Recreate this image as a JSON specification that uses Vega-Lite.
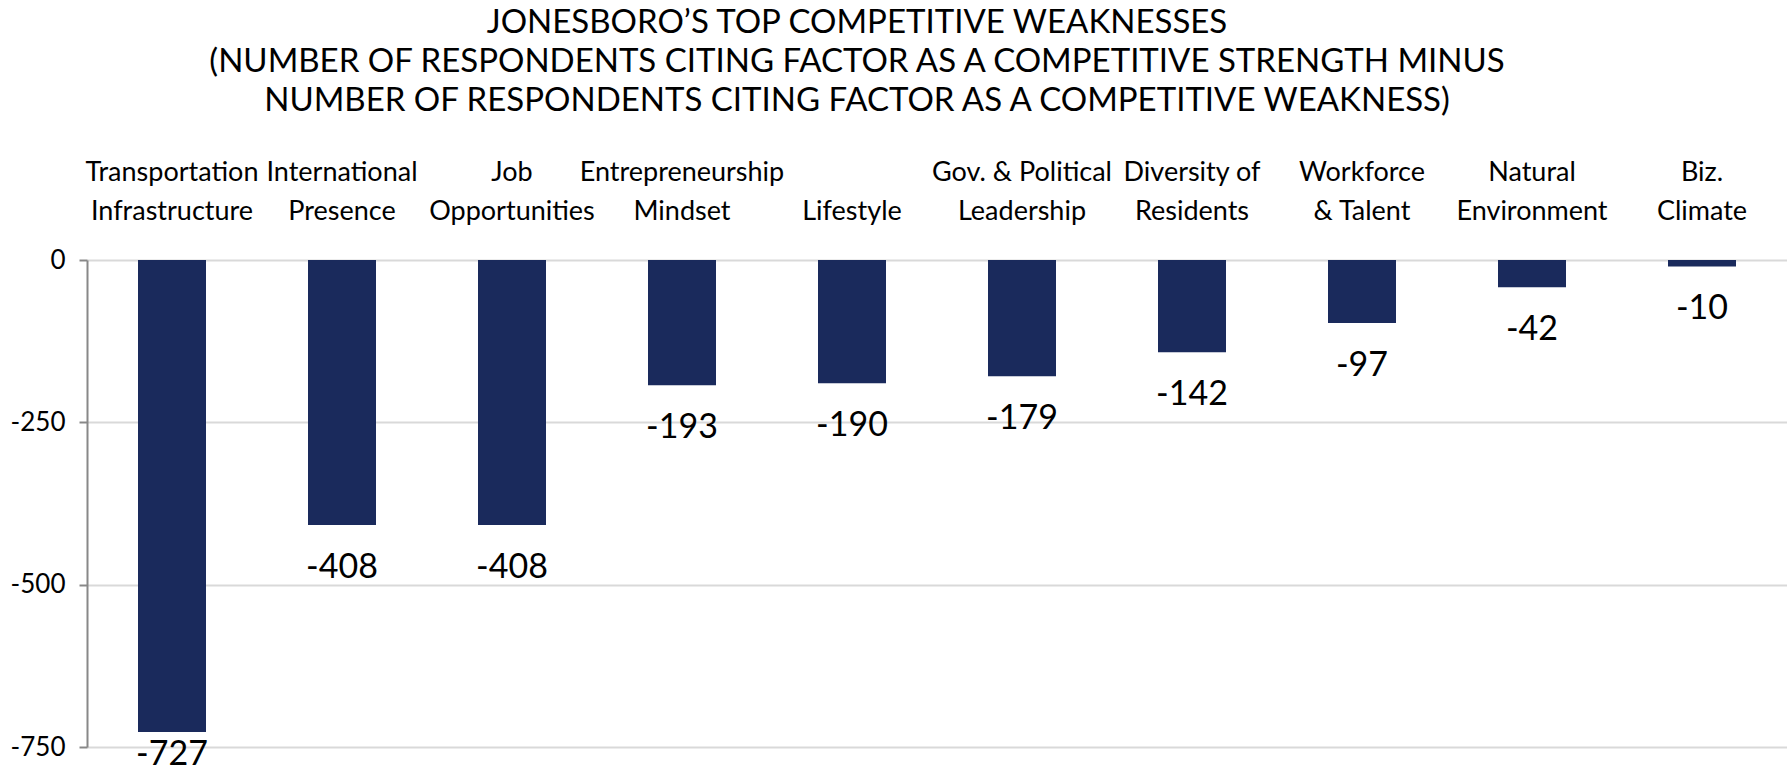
{
  "$schema": "https://vega.github.io/schema/vega-lite/v6.json",
  "width": 1700,
  "height": 487,
  "autosize": "none",
  "padding": {"left": 87, "top": 260, "right": 0, "bottom": 28},
  "background": "white",
  "title": {
    "text": ["JONESBORO’S TOP COMPETITIVE WEAKNESSES", "(NUMBER OF RESPONDENTS CITING FACTOR AS A COMPETITIVE STRENGTH MINUS", "NUMBER OF RESPONDENTS CITING FACTOR AS A COMPETITIVE WEAKNESS)"],
    "font": "Lato",
    "fontSize": 33,
    "fontWeight": "normal",
    "lineHeight": 39,
    "color": "#000000",
    "anchor": "middle",
    "dx": -80,
    "offset": 40
  },
  "data": {
    "values": [
      {"factor": "Transportation|Infrastructure", "value": -727},
      {"factor": "International|Presence", "value": -408},
      {"factor": "Job|Opportunities", "value": -408},
      {"factor": "Entrepreneurship|Mindset", "value": -193},
      {"factor": "Lifestyle", "value": -190},
      {"factor": "Gov. & Political|Leadership", "value": -179},
      {"factor": "Diversity of|Residents", "value": -142},
      {"factor": "Workforce|& Talent", "value": -97},
      {"factor": "Natural|Environment", "value": -42},
      {"factor": "Biz.|Climate", "value": -10}
    ]
  },
  "encoding": {
    "x": {
      "field": "factor",
      "type": "nominal",
      "sort": null,
      "scale": {"paddingInner": 0.6, "paddingOuter": 0.3},
      "axis": {
        "orient": "top",
        "title": null,
        "domain": false,
        "ticks": false,
        "labelAngle": 0,
        "labelExpr": "indexof(datum.label, '|') < 0 ? ['', datum.label] : split(datum.label, '|')",
        "labelFont": "Lato",
        "labelFontSize": 27,
        "labelLineHeight": 39,
        "labelColor": "#000000",
        "labelPadding": 74,
        "labelBaseline": "bottom",
        "labelLimit": 0,
        "labelOverlap": false,
        "labelBound": false
      }
    },
    "y": {
      "field": "value",
      "type": "quantitative",
      "scale": {"domain": [-750, 0], "nice": false},
      "axis": {
        "title": null,
        "values": [0, -250, -500, -750],
        "labelExpr": "datum.value + ''",
        "domain": true,
        "domainColor": "#888888",
        "domainWidth": 2,
        "ticks": true,
        "tickSize": 8,
        "tickColor": "#888888",
        "tickWidth": 2,
        "grid": true,
        "gridColor": "#d9d9d9",
        "gridWidth": 2,
        "labelFont": "Lato",
        "labelFontSize": 26,
        "labelColor": "#000000",
        "labelPadding": 14
      }
    }
  },
  "layer": [
    {"mark": {"type": "bar", "color": "#1a2a5c"}},
    {
      "transform": [{"filter": "datum.value >= -700"}],
      "mark": {"type": "text", "baseline": "top", "dy": 26, "font": "Lato", "fontSize": 34, "color": "#000000"},
      "encoding": {"text": {"field": "value", "type": "nominal"}}
    },
    {
      "transform": [{"filter": "datum.value < -700"}],
      "mark": {"type": "text", "baseline": "top", "dy": 6, "font": "Lato", "fontSize": 34, "color": "#000000"},
      "encoding": {"text": {"field": "value", "type": "nominal"}}
    }
  ],
  "config": {"view": {"stroke": null}}
}
